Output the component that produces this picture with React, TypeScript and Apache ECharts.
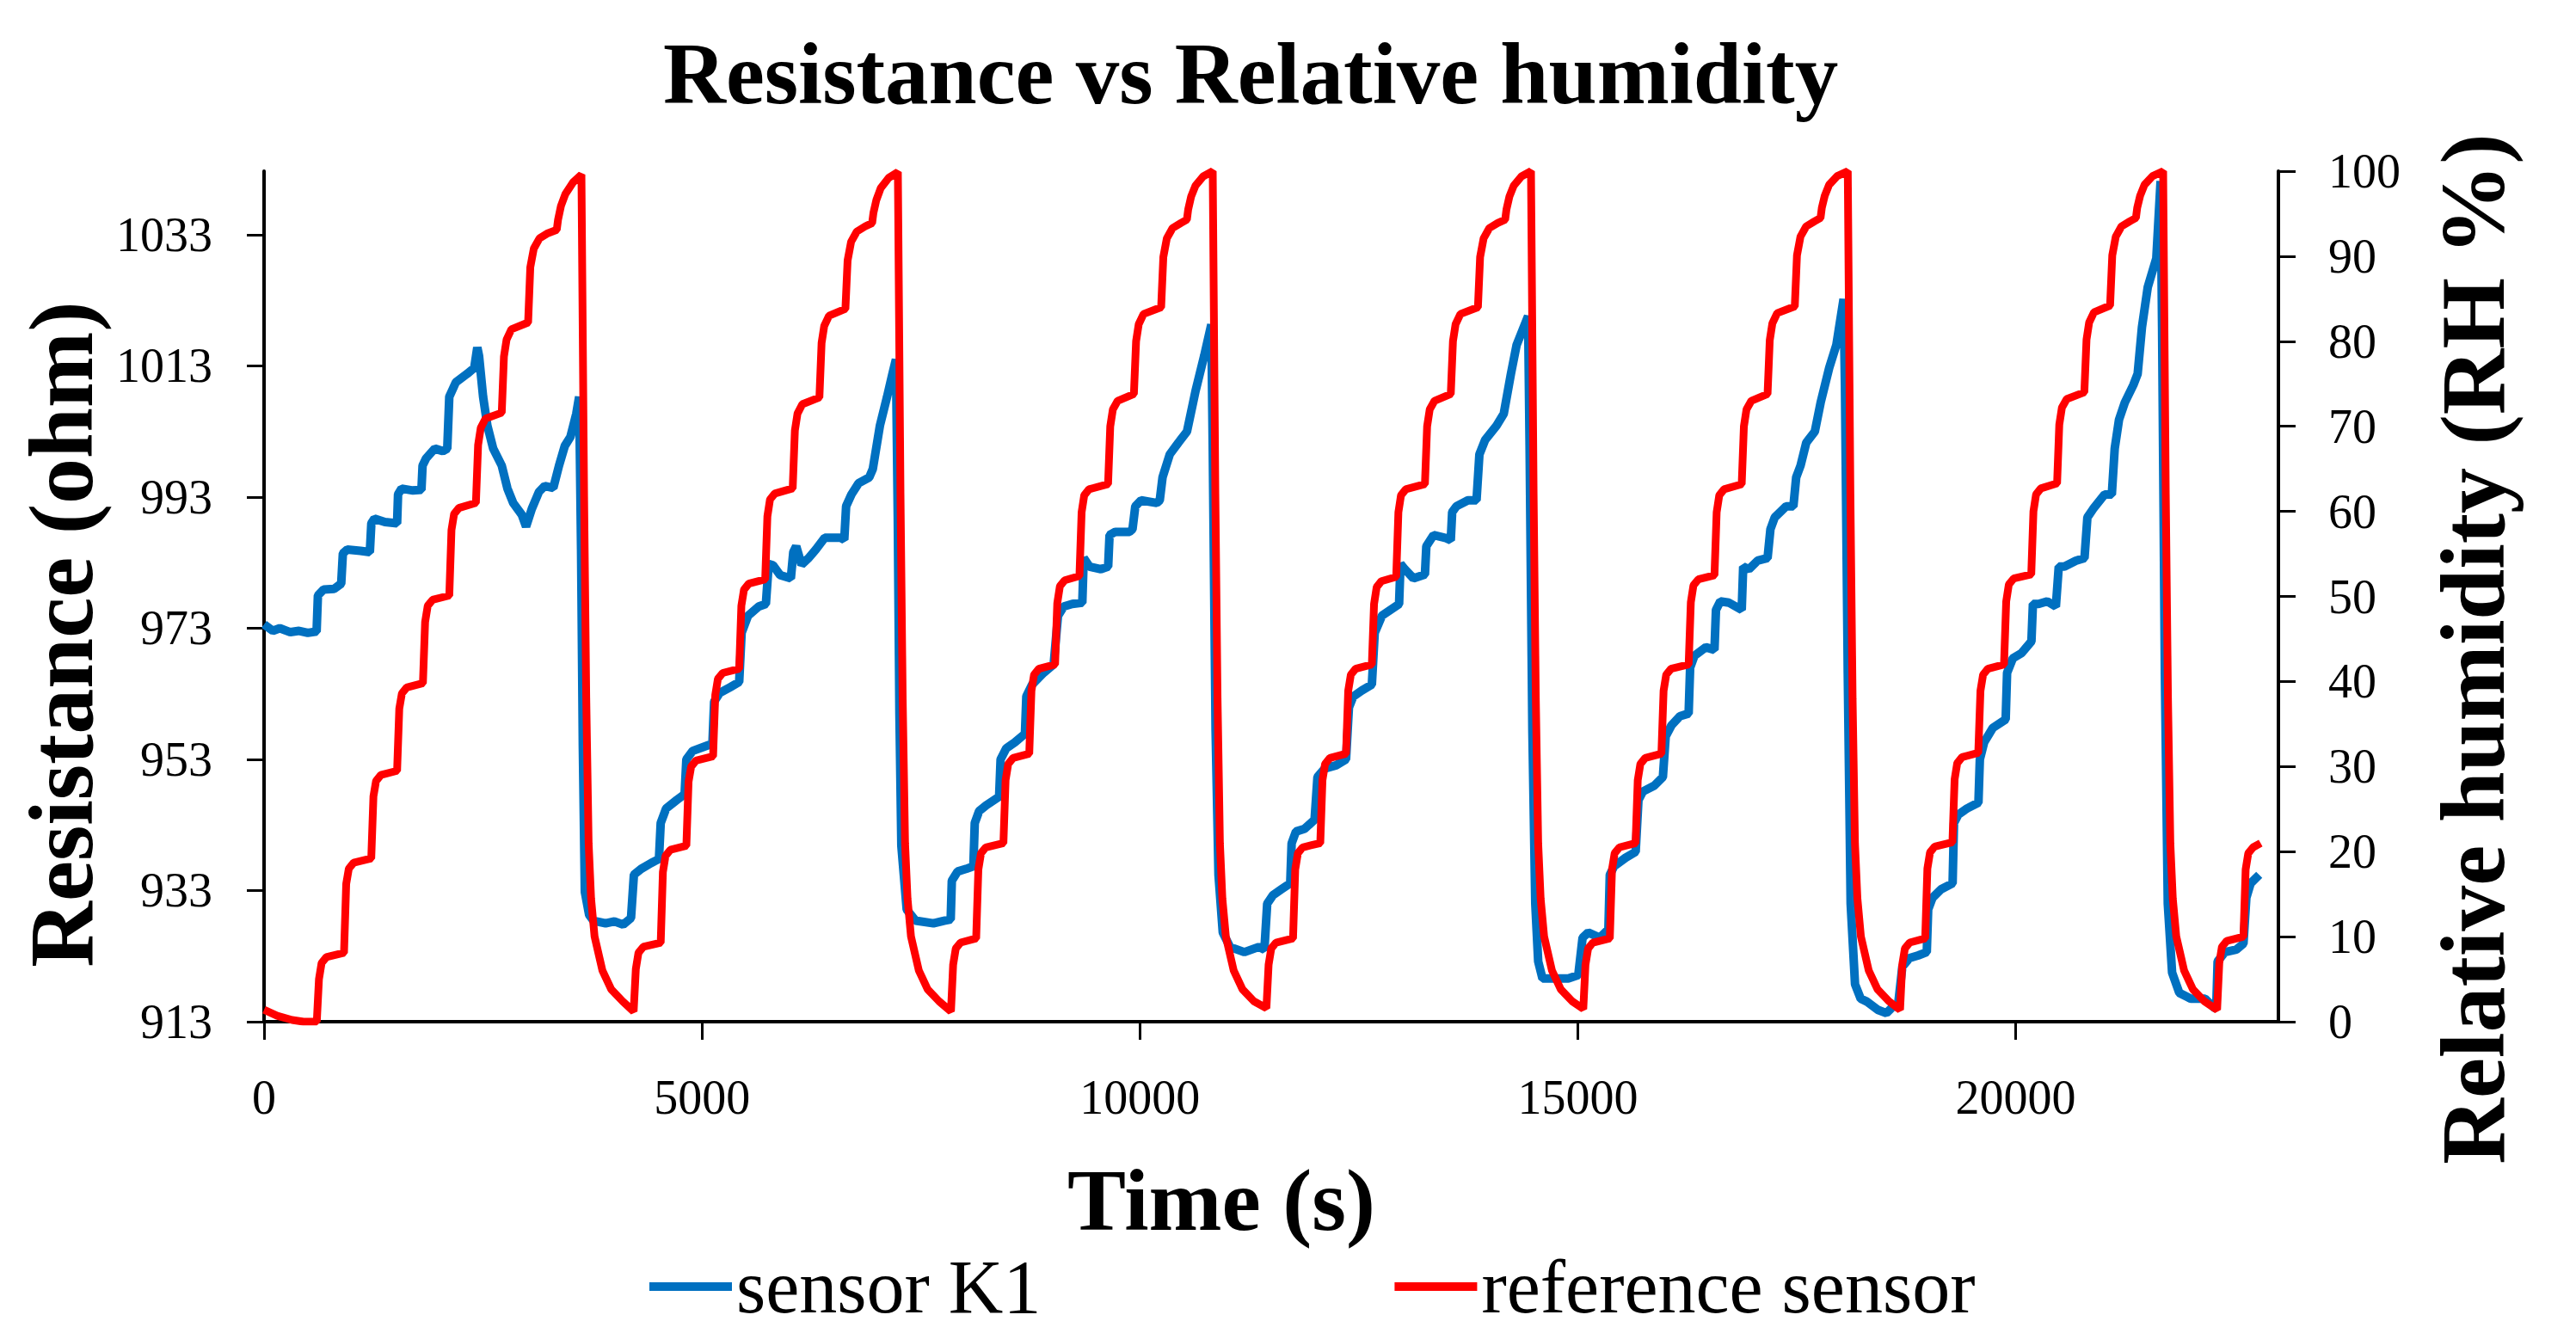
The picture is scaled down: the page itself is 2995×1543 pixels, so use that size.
import React, { useEffect, useRef } from "react";
import * as echarts from "echarts";

const SERIF = "'Liberation Serif', 'Times New Roman', serif";

const xTicks = [0, 5000, 10000, 15000, 20000];
const leftTicks = [913, 933, 953, 973, 993, 1013, 1033];

// sensor K1 (ohm) — [time s, resistance]
const sensorCycle1: [number, number][] = [
  [0, 973.6], [100, 972.6], [180, 973.0], [300, 972.4], [400, 972.6], [500, 972.3], [600, 972.5],
  [615, 978.0], [680, 978.9], [800, 979.0], [881, 979.8],
  [900, 984.4], [950, 985.0], [1100, 984.8], [1208, 984.6],
  [1225, 989.0], [1260, 989.7], [1380, 989.2], [1519, 989.0],
  [1530, 993.4], [1570, 994.3], [1700, 994.0], [1797, 994.1],
  [1810, 997.8], [1850, 998.9], [1950, 1000.4], [2040, 1000.0], [2092, 1000.4],
  [2115, 1008.3], [2190, 1010.5], [2320, 1011.8], [2400, 1012.7], [2435, 1015.8], [2455, 1014.5],
  [2501, 1008.3], [2550, 1003.9], [2616, 1000.4], [2714, 997.8], [2779, 994.3], [2845, 992.1], [2943, 990.3], [2992, 988.5],
  [3057, 991.2], [3139, 993.8], [3205, 994.7], [3303, 994.4], [3368, 997.8], [3434, 1000.8], [3499, 1002.2], [3565, 1005.7], [3598, 1008.3],
  [3620, 985], [3640, 955], [3663, 932.8], [3712, 929.3], [3761, 928.4], [3900, 928.0], [4000, 928.3], [4100, 927.8], [4190, 928.8],
];
const sensorCycle2: [number, number][] = [
  [4223, 935.4], [4305, 936.3], [4420, 937.2], [4509, 937.8],
  [4529, 943.3], [4590, 945.5], [4712, 946.8], [4802, 947.7],
  [4822, 953.0], [4895, 954.3], [5078, 955.2], [5119, 955.2],
  [5139, 961.8], [5200, 963.1], [5322, 964.0], [5425, 964.8],
  [5453, 972.3], [5526, 974.9], [5648, 976.3], [5730, 976.7],
  [5762, 982.8], [5811, 982.6], [5893, 981.1], [6015, 980.6],
  [6043, 984.6], [6076, 985.5], [6137, 982.7], [6218, 983.7], [6300, 985.0], [6402, 986.8], [6584, 986.8], [6625, 986.5],
  [6646, 991.6], [6707, 993.4], [6788, 995.1], [6910, 996.0], [6951, 997.3], [7032, 1003.9], [7114, 1008.3], [7175, 1011.8], [7215, 1014.0],
  [7236, 990], [7255, 960], [7277, 939.8], [7338, 930.1], [7440, 928.4], [7643, 928.0], [7765, 928.4], [7840, 928.6],
];
const sensorCycle3: [number, number][] = [
  [7853, 934.5], [7919, 935.9], [8017, 936.3], [8099, 936.7],
  [8115, 943.3], [8164, 945.1], [8246, 946.0], [8393, 947.3],
  [8410, 953.0], [8475, 954.7], [8573, 955.6], [8688, 956.9],
  [8704, 962.6], [8770, 964.4], [8901, 966.2], [9016, 967.5],
  [9065, 974.9], [9130, 976.3], [9228, 976.7], [9343, 976.9],
  [9359, 983.7], [9425, 982.4], [9556, 982.0], [9638, 982.4],
  [9654, 987.2], [9720, 987.7], [9883, 987.7], [9916, 988.1],
  [9948, 991.6], [10014, 992.5], [10194, 992.1], [10227, 992.5],
  [10259, 996.0], [10341, 999.5], [10440, 1001.3], [10538, 1003.0], [10636, 1009.2], [10734, 1014.5], [10816, 1019.3],
  [10832, 1001], [10865, 957.4], [10898, 935.4], [10947, 926.6], [11029, 924.4], [11193, 923.6], [11357, 924.4], [11422, 924.0],
];
const sensorCycle4: [number, number][] = [
  [11454, 931.0], [11520, 932.3], [11618, 933.2], [11717, 934.1],
  [11733, 940.2], [11782, 942.0], [11880, 942.4], [11995, 943.8],
  [12028, 950.3], [12110, 951.6], [12241, 952.1], [12354, 953.0],
  [12387, 960.9], [12437, 962.6], [12535, 963.5], [12649, 964.4],
  [12682, 972.3], [12764, 974.9], [12862, 975.8], [12960, 976.7],
  [12976, 982.8], [13026, 982.0], [13124, 980.6], [13255, 981.2],
  [13271, 985.5], [13353, 987.2], [13484, 986.8], [13550, 986.4],
  [13566, 990.7], [13615, 991.6], [13746, 992.5], [13844, 992.5],
  [13877, 999.5], [13942, 1001.7], [14073, 1003.9], [14155, 1005.7], [14237, 1011.8], [14302, 1016.2], [14433, 1020.6],
  [14450, 1001], [14482, 957.4], [14515, 931.0], [14548, 922.2], [14597, 919.6], [14728, 919.6], [14892, 919.6], [15006, 920.1],
];
const sensorCycle5: [number, number][] = [
  [15055, 925.8], [15120, 926.6], [15251, 925.8], [15350, 927.1],
  [15366, 935.4], [15415, 936.7], [15546, 938.0], [15661, 938.9],
  [15693, 946.8], [15743, 948.1], [15874, 949.0], [15972, 950.3],
  [16004, 956.5], [16070, 958.2], [16168, 959.6], [16266, 960.0],
  [16283, 967.0], [16332, 968.8], [16463, 970.1], [16561, 969.7],
  [16578, 975.8], [16627, 977.1], [16725, 976.9], [16872, 975.8],
  [16889, 982.4], [16954, 982.0], [17053, 983.3], [17167, 983.7],
  [17200, 988.1], [17249, 989.9], [17380, 991.6], [17462, 991.6],
  [17494, 996.0], [17544, 997.8], [17609, 1001.3], [17707, 1003.0], [17773, 1007.4], [17871, 1012.7], [17953, 1016.2], [18035, 1023.2],
  [18051, 1010], [18083, 966.2], [18116, 931.0], [18166, 918.7], [18231, 916.5], [18296, 916.1], [18427, 914.8], [18525, 914.3], [18591, 915.2], [18656, 915.4],
];
const sensorCycle6: [number, number][] = [
  [18706, 921.4], [18788, 922.7], [18886, 923.1], [18985, 923.6],
  [19001, 930.1], [19051, 931.9], [19149, 933.2], [19280, 934.1],
  [19296, 943.3], [19346, 944.6], [19444, 945.5], [19575, 946.4],
  [19591, 953.0], [19640, 955.6], [19739, 957.8], [19886, 959.1],
  [19902, 966.2], [19967, 968.4], [20066, 969.2], [20180, 971.0],
  [20197, 976.7], [20262, 976.7], [20360, 977.1], [20459, 976.3],
  [20492, 982.4], [20557, 982.4], [20688, 983.3], [20786, 983.7],
  [20819, 989.9], [20885, 991.2], [21016, 993.4], [21098, 993.4],
  [21131, 1000.4], [21180, 1004.8], [21246, 1007.4], [21344, 1010.1], [21393, 1011.8], [21442, 1018.9], [21508, 1025.0], [21606, 1029.4], [21655, 1041.2],
  [21672, 1018.9], [21704, 966], [21737, 931.0], [21786, 920.5], [21868, 917.4], [21999, 916.5], [22163, 916.5], [22261, 915.2], [22290, 915.0],
];
const sensorEnd: [number, number][] = [
  [22306, 922.2], [22389, 923.6], [22520, 924.0], [22601, 924.9],
  [22634, 931.9], [22683, 934.1], [22781, 935.4],
];

// reference sensor (RH %) — [time s, RH]
const refCycle1: [number, number][] = [
  [0, 1.4], [150, 0.7], [320, 0.2], [450, 0], [602, 0],
  [627, 5.0], [657, 6.9], [712, 7.6], [913, 8.1],
  [938, 16.2], [968, 18.0], [1023, 18.7], [1224, 19.2],
  [1249, 26.5], [1279, 28.3], [1334, 29.0], [1519, 29.5],
  [1544, 36.8], [1574, 38.6], [1629, 39.3], [1814, 39.8],
  [1839, 47.0], [1869, 48.9], [1924, 49.6], [2115, 50.1],
  [2140, 57.8], [2170, 59.7], [2225, 60.4], [2419, 61.0],
  [2444, 67.8], [2474, 69.8], [2529, 70.9], [2714, 71.6],
  [2739, 78.2], [2769, 80.2], [2824, 81.4], [3015, 82.2],
  [3040, 88.7], [3080, 90.9], [3145, 92.1], [3240, 92.7], [3342, 93.1],
  [3357, 94.3], [3390, 95.9], [3440, 97.3], [3530, 98.7], [3624, 99.6],
  [3654, 62], [3679, 38], [3706, 21], [3734, 14.5], [3774, 10], [3864, 6], [3964, 3.8], [4094, 2.4], [4220, 1.2],
];
const refCycle2: [number, number][] = [
  [4245, 6.2], [4275, 8.1], [4330, 8.8], [4529, 9.3],
  [4554, 17.6], [4584, 19.5], [4639, 20.2], [4822, 20.7],
  [4847, 28.2], [4877, 30.0], [4932, 30.7], [5127, 31.2],
  [5152, 38.4], [5182, 40.3], [5237, 41.0], [5425, 41.5],
  [5450, 48.9], [5480, 50.8], [5535, 51.5], [5722, 52.0],
  [5747, 59.4], [5777, 61.4], [5832, 62.1], [6036, 62.7],
  [6061, 69.5], [6091, 71.5], [6146, 72.6], [6341, 73.4],
  [6366, 79.8], [6396, 81.8], [6451, 83.0], [6638, 83.8],
  [6663, 89.5], [6703, 91.7], [6768, 92.9], [6863, 93.5], [6943, 93.9],
  [6958, 95.1], [6991, 96.6], [7041, 98.0], [7131, 99.2], [7237, 99.9],
  [7267, 62], [7292, 38], [7319, 21], [7347, 14.5], [7387, 10], [7477, 6], [7577, 3.8], [7707, 2.4], [7843, 1.2],
];
const refCycle3: [number, number][] = [
  [7868, 6.7], [7898, 8.6], [7953, 9.3], [8131, 9.8],
  [8156, 17.9], [8186, 19.8], [8241, 20.5], [8442, 21.0],
  [8467, 28.4], [8497, 30.3], [8552, 31.0], [8737, 31.5],
  [8762, 38.9], [8792, 40.8], [8847, 41.5], [9032, 42.0],
  [9057, 49.2], [9087, 51.2], [9142, 51.9], [9310, 52.4],
  [9335, 59.9], [9365, 61.9], [9420, 62.6], [9637, 63.2],
  [9662, 70.0], [9692, 72.0], [9747, 73.0], [9932, 73.8],
  [9957, 80.0], [9987, 82.0], [10042, 83.2], [10243, 84.0],
  [10268, 89.9], [10308, 92.1], [10373, 93.3], [10468, 93.9], [10537, 94.3],
  [10552, 95.5], [10585, 97.0], [10635, 98.3], [10725, 99.4], [10832, 100],
  [10862, 62], [10887, 38], [10914, 21], [10942, 14.5], [10982, 10], [11072, 6], [11172, 3.8], [11302, 2.4], [11445, 1.6],
];
const refCycle4: [number, number][] = [
  [11470, 6.7], [11500, 8.6], [11555, 9.3], [11749, 9.8],
  [11774, 17.9], [11804, 19.8], [11859, 20.5], [12060, 21.0],
  [12085, 28.4], [12115, 30.3], [12170, 31.0], [12354, 31.5],
  [12379, 38.9], [12409, 40.8], [12464, 41.5], [12649, 42.0],
  [12674, 49.1], [12704, 51.1], [12759, 51.8], [12927, 52.3],
  [12952, 59.9], [12982, 61.9], [13037, 62.6], [13255, 63.2],
  [13280, 70.0], [13310, 72.0], [13365, 73.0], [13550, 73.8],
  [13575, 80.0], [13605, 82.0], [13660, 83.2], [13860, 84.0],
  [13885, 89.9], [13925, 92.1], [13990, 93.3], [14085, 93.9], [14171, 94.3],
  [14186, 95.5], [14219, 97.0], [14269, 98.3], [14359, 99.4], [14466, 100],
  [14496, 62], [14521, 38], [14548, 21], [14576, 14.5], [14616, 10], [14706, 6], [14806, 3.8], [14936, 2.4], [15063, 1.5],
];
const refCycle5: [number, number][] = [
  [15088, 6.7], [15118, 8.6], [15173, 9.3], [15366, 9.8],
  [15391, 17.9], [15421, 19.8], [15476, 20.5], [15660, 21.0],
  [15685, 28.4], [15715, 30.3], [15770, 31.0], [15955, 31.5],
  [15980, 38.9], [16010, 40.8], [16065, 41.5], [16266, 42.0],
  [16291, 49.3], [16321, 51.3], [16376, 52.0], [16561, 52.5],
  [16586, 59.9], [16616, 61.9], [16671, 62.6], [16872, 63.2],
  [16897, 70.0], [16927, 72.0], [16982, 73.0], [17167, 73.8],
  [17192, 80.1], [17222, 82.1], [17277, 83.3], [17478, 84.1],
  [17503, 90.1], [17543, 92.3], [17608, 93.5], [17703, 94.1], [17772, 94.5],
  [17787, 95.7], [17820, 97.1], [17870, 98.4], [17960, 99.4], [18083, 100],
  [18113, 62], [18138, 38], [18165, 21], [18193, 14.5], [18233, 10], [18323, 6], [18423, 3.8], [18553, 2.4], [18680, 1.4],
];
const refCycle6: [number, number][] = [
  [18705, 6.7], [18735, 8.6], [18790, 9.3], [18967, 9.8],
  [18992, 18.0], [19022, 19.9], [19077, 20.6], [19278, 21.1],
  [19303, 28.5], [19333, 30.4], [19388, 31.1], [19573, 31.6],
  [19598, 38.9], [19628, 40.8], [19683, 41.5], [19867, 42.0],
  [19892, 49.4], [19922, 51.4], [19977, 52.1], [20178, 52.6],
  [20203, 60.0], [20233, 62.0], [20288, 62.7], [20473, 63.3],
  [20498, 70.2], [20528, 72.2], [20583, 73.2], [20784, 74.0],
  [20809, 80.2], [20839, 82.2], [20894, 83.4], [21078, 84.2],
  [21103, 90.1], [21143, 92.3], [21208, 93.5], [21303, 94.1], [21373, 94.5],
  [21388, 95.7], [21421, 97.1], [21471, 98.4], [21561, 99.4], [21684, 100],
  [21714, 62], [21739, 38], [21766, 21], [21794, 14.5], [21834, 10], [21924, 6], [22024, 3.8], [22154, 2.4], [22300, 1.4],
];
const refEnd: [number, number][] = [
  [22325, 6.9], [22355, 8.8], [22410, 9.5], [22601, 10.0],
  [22626, 17.9], [22656, 19.8], [22711, 20.5], [22797, 21.0],
];

const sensorData = [
  ...sensorCycle1, ...sensorCycle2, ...sensorCycle3, ...sensorCycle4,
  ...sensorCycle5, ...sensorCycle6, ...sensorEnd,
];
const referenceData = [
  ...refCycle1, ...refCycle2, ...refCycle3, ...refCycle4,
  ...refCycle5, ...refCycle6, ...refEnd,
];

const plain = (v: number) => String(v);

export default function App() {
  const ref = useRef<HTMLDivElement>(null);

  useEffect(() => {
    document.body.style.margin = "0";
    const chart = echarts.init(ref.current as HTMLDivElement, null, {
      renderer: "svg",
      width: 2995,
      height: 1543,
    });
    const axisLineStyle = { color: "#000", width: 4 };
    const tickLineStyle = { color: "#000", width: 3 };
    const labelStyle = { fontFamily: SERIF, fontSize: 56, color: "#000", formatter: plain };
    const nameStyle = {
      fontFamily: SERIF,
      fontSize: 102,
      fontWeight: "bold" as const,
      color: "#000",
      lineHeight: 100,
    };

    chart.setOption({
      animation: false,
      backgroundColor: "#ffffff",
      title: {
        text: "Resistance vs Relative humidity",
        left: 771,
        top: 36,
        padding: 0,
        textStyle: { ...nameStyle, fontSize: 101 },
      },
      legend: {
        left: 755,
        top: 1452,
        padding: 0,
        icon: "rect",
        itemWidth: 96,
        itemHeight: 10,
        itemGap: 411,
        textStyle: { fontFamily: SERIF, fontSize: 88, color: "#000", lineHeight: 88 },
        data: ["sensor K1", "reference sensor"],
      },
      grid: { left: 307, top: 199, width: 2342, height: 989, containLabel: false },
      xAxis: {
        type: "value",
        min: 0,
        max: 23000,
        name: "Time (s)",
        nameLocation: "middle",
        nameGap: 157,
        nameTextStyle: { ...nameStyle, padding: [0, 116, 0, 0] },
        axisLine: { show: true, onZero: false, lineStyle: axisLineStyle },
        axisTick: { show: true, length: 21, lineStyle: tickLineStyle, customValues: xTicks },
        axisLabel: { ...labelStyle, margin: 60, customValues: xTicks },
        splitLine: { show: false },
      },
      yAxis: [
        {
          type: "value",
          position: "left",
          min: 913,
          max: 1042.7,
          name: "Resistance (ohm)",
          nameLocation: "middle",
          nameGap: 180,
          nameTextStyle: { ...nameStyle, fontSize: 106, padding: [0, 88, 0, 0] },
          axisLine: { show: true, lineStyle: axisLineStyle },
          axisTick: { show: true, length: 20, lineStyle: tickLineStyle, customValues: leftTicks },
          axisLabel: { ...labelStyle, margin: 60, customValues: leftTicks },
          splitLine: { show: false },
        },
        {
          type: "value",
          position: "right",
          min: 0,
          max: 100,
          interval: 10,
          name: "Relative humidity (RH %)",
          nameLocation: "middle",
          nameGap: 176,
          nameTextStyle: { ...nameStyle, fontSize: 106, padding: [0, 122, 0, 0] },
          axisLine: { show: true, lineStyle: axisLineStyle },
          axisTick: { show: true, length: 20, lineStyle: tickLineStyle },
          axisLabel: { ...labelStyle, margin: 58 },
          splitLine: { show: false },
        },
      ],
      series: [
        {
          name: "sensor K1",
          type: "line",
          yAxisIndex: 0,
          data: sensorData,
          symbol: "none",
          lineStyle: { color: "#0070C0", width: 10 },
          itemStyle: { color: "#0070C0" },
          z: 2,
        },
        {
          name: "reference sensor",
          type: "line",
          yAxisIndex: 1,
          data: referenceData,
          symbol: "none",
          lineStyle: { color: "#FF0000", width: 9 },
          itemStyle: { color: "#FF0000" },
          z: 3,
        },
      ],
    });
    return () => chart.dispose();
  }, []);

  return (
    <div
      ref={ref}
      style={{ position: "fixed", left: 0, top: 0, width: 2995, height: 1543, background: "#fff" }}
    />
  );
}
